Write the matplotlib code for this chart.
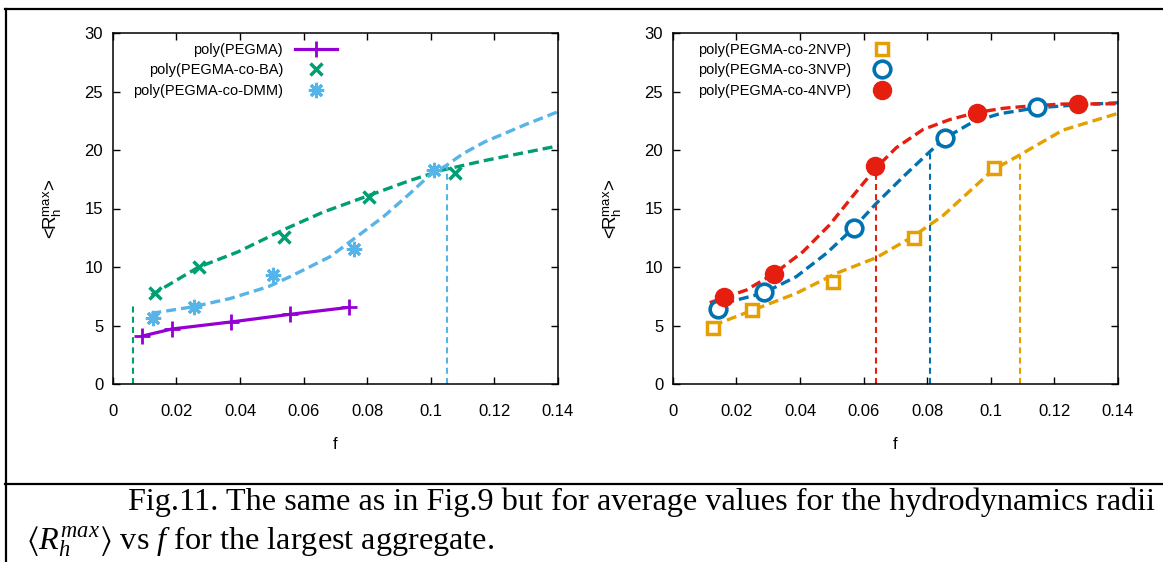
import matplotlib.pyplot as plt
from matplotlib.lines import Line2D

plt.rcParams['font.family'] = ['Liberation Sans', 'DejaVu Sans']
plt.rcParams['mathtext.fontset'] = 'custom'
plt.rcParams['mathtext.rm'] = 'Liberation Sans'
plt.rcParams['mathtext.it'] = 'Liberation Serif:italic'
plt.rcParams['mathtext.fallback'] = 'stix'

# left panel: simulation points
pegma_f = [0.0093, 0.0185, 0.0371, 0.0556, 0.0742]
pegma_r = [4.1, 4.7, 5.3, 5.95, 6.55]
ba_f = [0.0132, 0.027, 0.0537, 0.0804, 0.1075]
ba_r = [7.8, 10.0, 12.6, 16.0, 18.0]
dmm_f = [0.0126, 0.0255, 0.0503, 0.0758, 0.1009]
dmm_r = [5.6, 6.6, 9.3, 11.5, 18.3]

# left panel: fitted dashed curves
ba_fit_f = [0.0121, 0.0268, 0.0394, 0.0538, 0.0662, 0.0809, 0.0935, 0.1039, 0.117, 0.14]
ba_fit_r = [7.6, 9.97, 11.3, 13.2, 14.7, 16.15, 17.4, 18.3, 19.1, 20.35]
dmm_fit_f = [0.0121, 0.0252, 0.0368, 0.0489, 0.0557, 0.0683, 0.0746, 0.0851, 0.0935,
             0.0997, 0.105, 0.1102, 0.117, 0.13, 0.14]
dmm_fit_r = [6.04, 6.6, 7.3, 8.32, 9.17, 10.88, 12.16, 14.3, 16.3,
             17.86, 18.7, 19.7, 20.7, 22.2, 23.27]
left_vlines_f = [0.0063, 0.105]
left_vlines_r = [6.95, 18.7]

# right panel: simulation points
nvp2_f = [0.0126, 0.0249, 0.0504, 0.0758, 0.1009]
nvp2_r = [4.76, 6.33, 8.75, 12.46, 18.45]
nvp3_f = [0.0143, 0.0287, 0.0571, 0.0857, 0.1144]
nvp3_r = [6.4, 7.84, 13.37, 21.0, 23.7]
nvp4_f = [0.016, 0.0318, 0.0637, 0.0957, 0.1275]
nvp4_r = [7.4, 9.4, 18.6, 23.15, 23.9]

# right panel: fitted dashed curves
nvp2_fit_f = [0.0126, 0.0252, 0.0388, 0.0514, 0.064, 0.0755, 0.085, 0.1007, 0.1091, 0.1227, 0.14]
nvp2_fit_r = [5.0, 6.32, 7.75, 9.46, 10.8, 12.6, 14.4, 18.3, 19.57, 21.7, 23.13]
nvp3_fit_f = [0.0116, 0.0283, 0.0388, 0.0483, 0.0567, 0.064, 0.0724, 0.0808, 0.0855,
              0.0944, 0.1028, 0.1143, 0.127, 0.14]
nvp3_fit_r = [6.6, 7.75, 9.17, 11.17, 13.3, 15.44, 17.7, 19.85, 21.0,
              22.4, 23.1, 23.6, 23.85, 24.04]
nvp4_fit_f = [0.0116, 0.0231, 0.032, 0.0409, 0.0493, 0.0567, 0.064, 0.0703, 0.0787,
              0.0871, 0.0955, 0.1038, 0.1122, 0.1227, 0.14]
nvp4_fit_r = [6.95, 8.03, 9.46, 11.3, 13.6, 16.1, 18.5, 20.2, 21.75,
              22.6, 23.2, 23.56, 23.76, 23.93, 23.95]
right_vlines_f = [0.064, 0.0808, 0.1091]
right_vlines_r = [18.0, 19.85, 19.5]

c_purple = '#9400d3'
c_green = '#009e73'
c_lblue = '#56b4e9'
c_orange = '#e69f00'
c_blue = '#0072b2'
c_red = '#e51e10'

xticks = [0, 0.02, 0.04, 0.06, 0.08, 0.1, 0.12, 0.14]
xticklabels = ['0', '0.02', '0.04', '0.06', '0.08', '0.1', '0.12', '0.14']
yticks = [0, 5, 10, 15, 20, 25, 30]

W, H = 1163, 562
fig = plt.figure(figsize=(W / 100, H / 100), dpi=100)
ax1 = fig.add_axes([112.9 / W, 1 - 384 / H, 445.1 / W, 351 / H])
ax2 = fig.add_axes([672.9 / W, 1 - 384 / H, 445.0 / W, 351 / H])

fit_kw = dict(lw=2.4, dashes=(3.0, 1.5))
vl_kw = dict(lw=1.5, dashes=(2.9, 2.0))

# left panel
ax1.plot(ba_fit_f, ba_fit_r, color=c_green, **fit_kw)
ax1.plot(dmm_fit_f, dmm_fit_r, color=c_lblue, **fit_kw)
for xv, yv, cc in zip(left_vlines_f, left_vlines_r, [c_green, c_lblue]):
    ax1.plot([xv, xv], [0, yv], color=cc, **vl_kw)
ax1.plot(pegma_f, pegma_r, color=c_purple, lw=2.3, marker='+', ms=12, mew=2,
         label='poly(PEGMA)')
ax1.plot(ba_f, ba_r, ls='none', color=c_green, marker='x', ms=8.5, mew=2.5,
         label='poly(PEGMA-co-BA)')
ax1.plot(dmm_f, dmm_r, ls='none', color=c_lblue, marker=(8, 2, 0), ms=11, mew=2.2,
         label='poly(PEGMA-co-DMM)')

# right panel
ax2.plot(nvp2_fit_f, nvp2_fit_r, color=c_orange, **fit_kw)
ax2.plot(nvp3_fit_f, nvp3_fit_r, color=c_blue, **fit_kw)
ax2.plot(nvp4_fit_f, nvp4_fit_r, color=c_red, **fit_kw)
for xv, yv, cc in zip(right_vlines_f, right_vlines_r, [c_red, c_blue, c_orange]):
    ax2.plot([xv, xv], [0, yv], color=cc, **vl_kw)
ax2.plot(nvp2_f, nvp2_r, ls='none', color=c_orange, marker='s', ms=8, mew=2.5,
         mfc='white', label='poly(PEGMA-co-2NVP)')
ax2.plot(nvp3_f, nvp3_r, ls='none', color=c_blue, marker='o', ms=12, mew=2.6,
         mfc='white', label='poly(PEGMA-co-3NVP)')
ax2.plot(nvp4_f, nvp4_r, ls='none', color=c_red, marker='o', ms=13,
         label='poly(PEGMA-co-4NVP)')

for ax in (ax1, ax2):
    ax.set_xlim(0, 0.14)
    ax.set_ylim(0, 30)
    ax.set_xticks(xticks)
    ax.set_xticklabels(xticklabels)
    ax.set_yticks(yticks)
    ax.tick_params(direction='in', length=5, width=1, top=True, right=True,
                   labelsize=12)
    ax.tick_params(axis='x', pad=14.5)
    ax.tick_params(axis='y', pad=7)
    for s in ax.spines.values():
        s.set_linewidth(1.1)
    ax.set_xlabel('f', fontsize=12)
    ax.set_ylabel(r'<R$_{\mathrm{h}}^{\mathrm{max}}$>', fontsize=13.5)
    ax.xaxis.set_label_coords(0.5, -0.152)
    ax.yaxis.set_label_coords(-0.109, 0.5)

ax1.legend(loc='upper right', bbox_to_anchor=(0.5035, 0.972), frameon=False,
           markerfirst=False, fontsize=10.5, borderpad=0, borderaxespad=0,
           handlelength=2.9, handletextpad=0.8, labelspacing=0.45)
ax2.legend(loc='upper left', bbox_to_anchor=(0.0564, 0.972), frameon=False,
           markerfirst=False, fontsize=10.5, borderpad=0, borderaxespad=0,
           handlelength=2.9, handletextpad=0.7, labelspacing=0.45)

# page frame lines
fig.add_artist(Line2D([5 / W, 1], [1 - 9 / H, 1 - 9 / H], color='black', lw=1.6))
fig.add_artist(Line2D([5.5 / W, 5.5 / W], [0, 1 - 9 / H], color='black', lw=1.6))
fig.add_artist(Line2D([5 / W, 1], [1 - 484 / H, 1 - 484 / H], color='black', lw=1.6))

# caption
fig.text(128 / W, 1 - 502 / H,
         'Fig.11. The same as in Fig.9 but for average values for the hydrodynamics radii',
         family='Liberation Serif', fontsize=23.2, va='center', ha='left')
fig.text(26 / W, 1 - 542 / H,
         r'$\langle R_h^{max}\rangle$ vs $f$ for the largest aggregate.',
         family='Liberation Serif', fontsize=23.2, va='center', ha='left')

fig.savefig('out.png', dpi=100)
